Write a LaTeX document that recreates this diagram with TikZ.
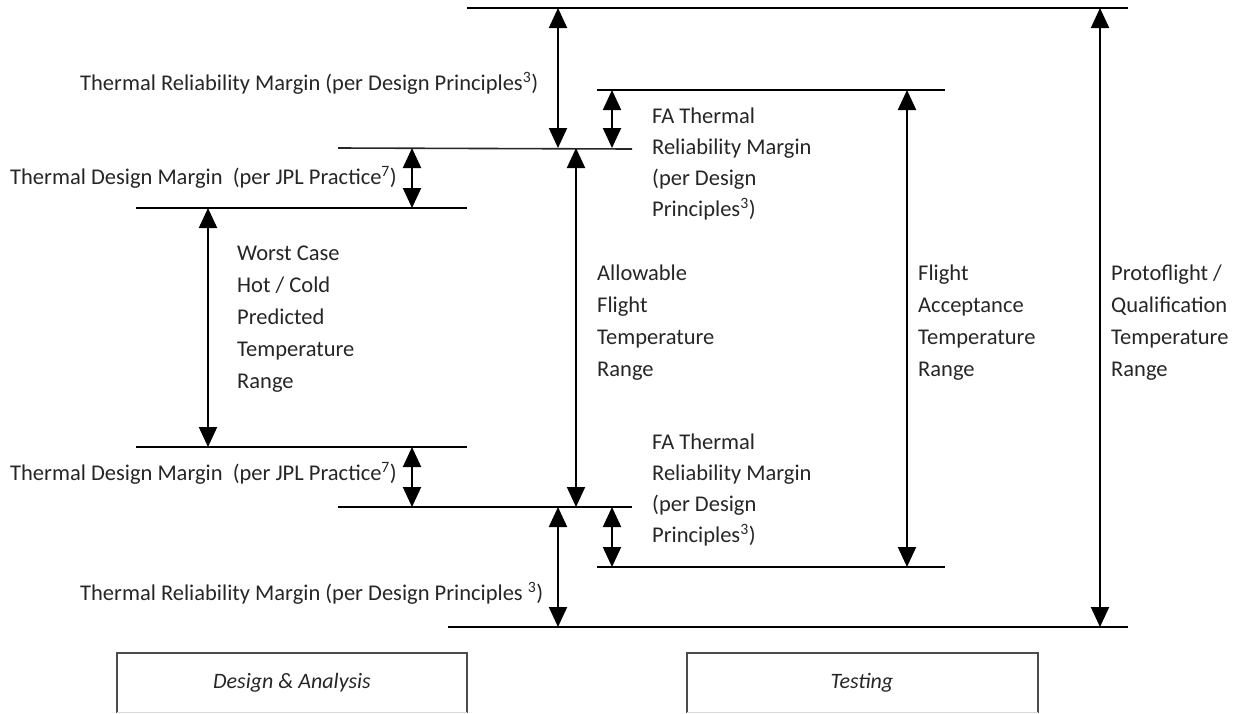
\documentclass[tikz,border=0pt]{standalone}
\usepackage{fontspec}
\setmainfont{Carlito}
\usetikzlibrary{arrows.meta}
\begin{document}
\begin{tikzpicture}[x=1pt,y=-1pt,
  hline/.style={line width=2.3pt},
  thinline/.style={line width=1.6pt, draw=black!85},
  dim/.style={line width=2pt, {Triangle[length=20pt,width=18pt]}-{Triangle[length=20pt,width=18pt]}},
  lbl/.style={font=\fontsize{22.5}{32}\selectfont, inner sep=0pt, align=left, anchor=base west, text=black!85},
  falbl/.style={lbl, font=\fontsize{22.5}{31}\selectfont},
  boxlbl/.style={font=\fontsize{22}{24}\selectfont\itshape, inner sep=0pt, text=black!85},
]
\useasboundingbox (0,0) rectangle (1245,713);
% horizontal levels
\coordinate (L0a) at (467,8);   \coordinate (L0b) at (1128,8);
\coordinate (F1a) at (597,90);  \coordinate (F1b) at (945,90);
\coordinate (M1a) at (338,148); \coordinate (M1b) at (632,149);
\coordinate (D1a) at (136,208); \coordinate (D1b) at (467,208);
\coordinate (D2a) at (136,447); \coordinate (D2b) at (467,447);
\coordinate (M2a) at (338,507); \coordinate (M2b) at (632,507);
\coordinate (F2a) at (597,567); \coordinate (F2b) at (945,567);
\coordinate (B0a) at (448,627); \coordinate (B0b) at (1128,627);
\draw[hline] (L0a) -- (L0b);
\draw[hline] (F1a) -- (F1b);
\draw[thinline] (M1a) -- (M1b);
\draw[hline] (D1a) -- (D1b);
\draw[hline] (D2a) -- (D2b);
\draw[hline] (M2a) -- (M2b);
\draw[hline] (F2a) -- (F2b);
\draw[hline] (B0a) -- (B0b);
% arrow end points
\coordinate (r1t) at (558,8);   \coordinate (r1b) at (558,148);
\coordinate (f1t) at (612,90);  \coordinate (f1b) at (612,148);
\coordinate (d1t) at (412,148); \coordinate (d1b) at (412,208);
\coordinate (wt) at (208,208);  \coordinate (wb) at (208,447);
\coordinate (at) at (576,148);  \coordinate (ab) at (576,507);
\coordinate (d2t) at (412,447); \coordinate (d2b) at (412,507);
\coordinate (r2t) at (558,507); \coordinate (r2b) at (558,627);
\coordinate (f2t) at (612,507); \coordinate (f2b) at (612,567);
\coordinate (fat) at (907,90);  \coordinate (fab) at (907,567);
\coordinate (pt) at (1100,8);   \coordinate (pb) at (1100,627);
\draw[dim] (r1t) -- (r1b);
\draw[dim] (f1t) -- (f1b);
\draw[dim] (d1t) -- (d1b);
\draw[dim] (wt) -- (wb);
\draw[dim] (at) -- (ab);
\draw[dim] (d2t) -- (d2b);
\draw[dim] (r2t) -- (r2b);
\draw[dim] (f2t) -- (f2b);
\draw[dim] (fat) -- (fab);
\draw[dim] (pt) -- (pb);
% labels (multi-line: base = last line)
\node[lbl] (trm1) at (80,90) {Thermal Reliability Margin (per Design Principles\textsuperscript{3})};
\node[lbl] (tdm1) at (10,184) {Thermal Design Margin\ \ (per JPL Practice\textsuperscript{7})};
\node[lbl] (wc) at (237,388) {Worst Case\\Hot / Cold\\Predicted\\Temperature\\Range};
\node[lbl] (aft) at (597,376) {Allowable\\Flight\\Temperature\\Range};
\node[falbl] (fa1) at (652,216) {FA Thermal\\Reliability Margin\\(per Design\\Principles\textsuperscript{3})};
\node[lbl] (fatl) at (918,376) {Flight\\Acceptance\\Temperature\\Range};
\node[lbl] (pq) at (1111,376) {Protoflight /\\Qualification\\Temperature\\Range};
\node[lbl] (tdm2) at (10,480) {Thermal Design Margin\ \ (per JPL Practice\textsuperscript{7})};
\node[falbl] (fa2) at (652,542) {FA Thermal\\Reliability Margin\\(per Design\\Principles\textsuperscript{3})};
\node[lbl] (trm2) at (80,600) {Thermal Reliability Margin (per Design Principles \textsuperscript{3})};
% bottom boxes
\draw[line width=1.5pt, draw=black!70] (117,713) -- (117,653) -- (467,653) -- (467,713);
\draw[line width=1pt, draw=black!15] (117,712) -- (467,712);
\draw[line width=1.5pt, draw=black!70] (687,713) -- (687,653) -- (1038,653) -- (1038,713);
\draw[line width=1pt, draw=black!15] (687,712) -- (1038,712);
\node[boxlbl] (da) at (292,683) {Design \& Analysis};
\node[boxlbl] (te) at (862,683) {Testing};
\end{tikzpicture}
\end{document}
